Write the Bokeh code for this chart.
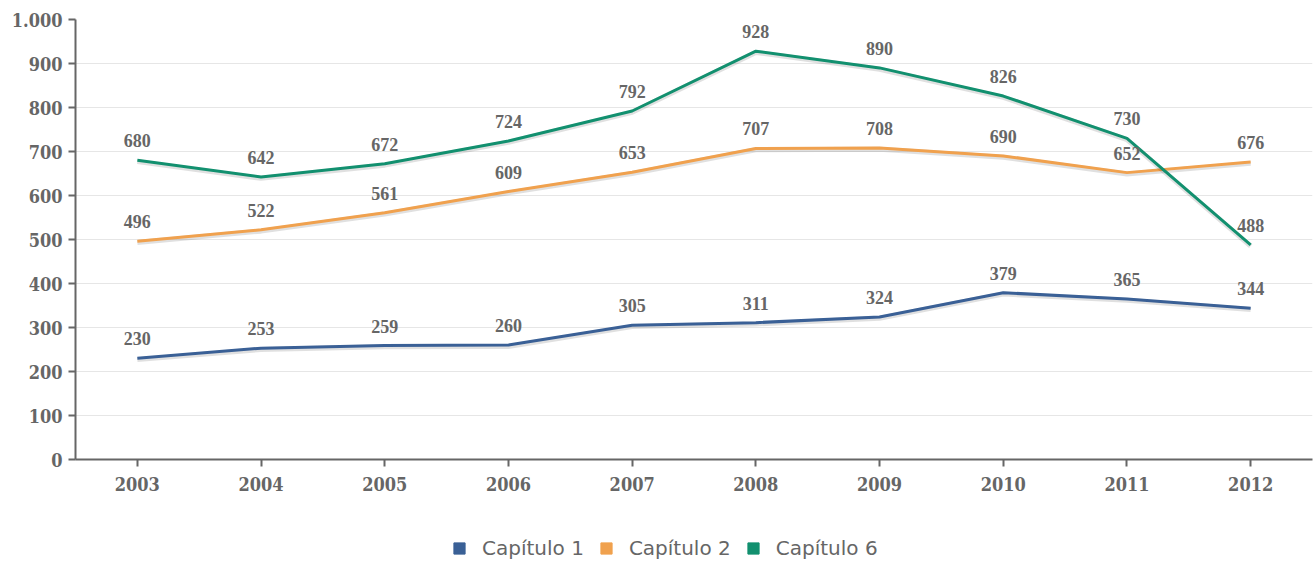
from bokeh.plotting import figure
from bokeh.layouts import column
from bokeh.models import Range1d, FixedTicker, Legend, LegendItem, ColumnDataSource, LabelSet
from bokeh.embed import file_html
from bokeh.resources import INLINE

years = [2003, 2004, 2005, 2006, 2007, 2008, 2009, 2010, 2011, 2012]
cap1 = [230, 253, 259, 260, 305, 311, 324, 379, 365, 344]
cap2 = [496, 522, 561, 609, 653, 707, 708, 690, 652, 676]
cap6 = [680, 642, 672, 724, 792, 928, 890, 826, 730, 488]
series_names = ["Capítulo 1", "Capítulo 2", "Capítulo 6"]
colors = ["#3a6096", "#f0a14e", "#12906f"]
y_ticks = [0, 100, 200, 300, 400, 500, 600, 700, 800, 900, 1000]

FONT = "DejaVu Serif Condensed"
GREY = "#666666"

p = figure(width=1316, height=500, output_backend="svg", toolbar_location=None,
           x_range=Range1d(2002.5, 2012.5), y_range=Range1d(0, 1000),
           min_border_left=75, min_border_top=19, min_border_right=4, min_border_bottom=41)
p.outline_line_color = None
p.xgrid.grid_line_color = None
p.ygrid.grid_line_color = "#e6e6e6"
p.ygrid.grid_line_width = 1

p.xaxis.ticker = FixedTicker(ticks=years)
p.yaxis.ticker = FixedTicker(ticks=y_ticks)
p.yaxis.major_label_overrides = {1000: "1.000"}
p.xaxis.major_label_overrides = {y: str(y) for y in years}
for ax in (p.xaxis, p.yaxis):
    ax.axis_line_color = GREY
    ax.axis_line_width = 2
    ax.major_tick_line_color = GREY
    ax.major_tick_line_width = 2
    ax.major_tick_in = 0
    ax.major_tick_out = 7
    ax.minor_tick_line_color = None
    ax.major_label_text_font = FONT
    ax.major_label_text_font_style = "bold"
    ax.major_label_text_font_size = "18px"
    ax.major_label_text_color = GREY
p.xaxis.major_label_standoff = 10
p.yaxis.major_label_standoff = 6

# legend figure
lf = figure(width=1316, height=64, output_backend="svg", toolbar_location=None,
            x_axis_type=None, y_axis_type=None, x_range=Range1d(0, 1), y_range=Range1d(0, 1),
            min_border=0)
lf.outline_line_color = None
lf.xgrid.grid_line_color = None
lf.ygrid.grid_line_color = None

items = []
for name, vals, col in zip(series_names, [cap1, cap2, cap6], colors):
    src = ColumnDataSource(dict(x=years, y=vals, ys=[v - 3 for v in vals], t=[str(v) for v in vals]))
    p.line("x", "ys", source=src, line_color="#000000", line_alpha=0.12, line_width=5)
    p.line("x", "y", source=src, line_color=col, line_width=3)
    lab = LabelSet(x="x", y="y", text="t", source=src, text_align="center",
                   text_baseline="alphabetic", y_offset=13,
                   text_font=FONT, text_font_style="bold", text_font_size="18px",
                   text_color=GREY)
    p.add_layout(lab)
    sq = lf.quad(left=[-10], right=[-9], bottom=[-10], top=[-9], fill_color=col, line_color=col)
    items.append(LegendItem(label=name, renderers=[sq]))

legend = Legend(items=items, orientation="horizontal", location=(377, 4),
                label_text_font="DejaVu Sans", label_text_font_size="20px",
                label_text_color=GREY, border_line_color=None, background_fill_alpha=0,
                glyph_width=14, glyph_height=14, spacing=15, label_standoff=16,
                label_height=14, margin=0, padding=0)
lf.add_layout(legend, "center")

layout = column(p, lf, spacing=0)
open("out.html", "w").write(file_html(layout, INLINE))
